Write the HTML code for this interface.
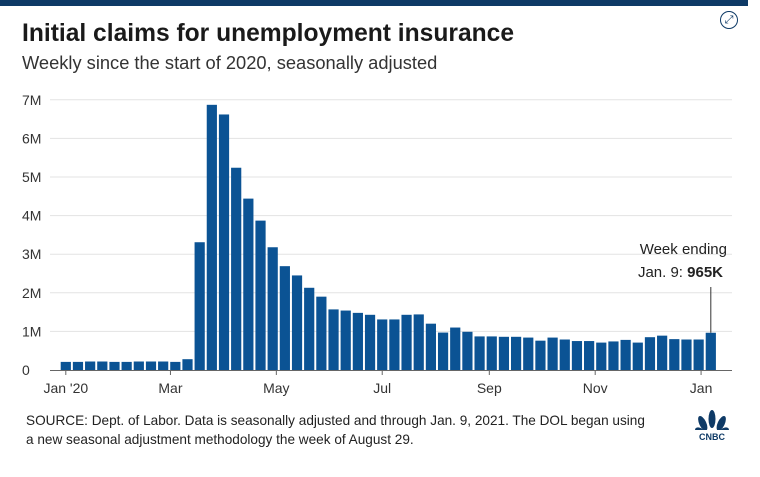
<!DOCTYPE html>
<html><head><meta charset="utf-8"><style>
body{margin:0;width:760px;height:477px;background:#fff;font-family:"Liberation Sans",sans-serif;overflow:hidden;position:relative}
.t{position:absolute;color:#1a1a1a}
</style></head><body>
<div style="position:absolute;left:0;top:0;width:748px;height:6px;background:#0e3a66"></div>
<div class="t" style="left:22px;top:20px;font-size:24.6px;font-weight:bold">Initial claims for unemployment insurance</div>
<div class="t" style="left:22px;top:52px;font-size:18.3px;color:#333">Weekly since the start of 2020, seasonally adjusted</div>
<div style="position:absolute;left:720px;top:11px;width:16px;height:16px;border:1.5px solid #0e3a66;border-radius:50%;font-size:11px;line-height:16px;text-align:center;color:#0e3a66">⤢</div>
<svg id="c" width="760" height="477" style="position:absolute;left:0;top:0"></svg>
<div class="t" style="left:26px;top:411px;font-size:13.6px;line-height:19px;color:#222">SOURCE: Dept. of Labor. Data is seasonally adjusted and through Jan. 9, 2021. The DOL began using<br>a new seasonal adjustment methodology the week of August 29.</div>
<div style="position:absolute;left:692px;top:410px;width:40px;text-align:center">
<svg width="36" height="20" viewBox="0 0 36 20"><g fill="#0e3a66"><ellipse cx="8" cy="13" rx="4" ry="7" transform="rotate(-50 18 19)"/><ellipse cx="12" cy="10" rx="3.5" ry="8" transform="rotate(-25 18 19)"/><ellipse cx="18" cy="9" rx="3.5" ry="9"/><ellipse cx="24" cy="10" rx="3.5" ry="8" transform="rotate(25 18 19)"/><ellipse cx="28" cy="13" rx="4" ry="7" transform="rotate(50 18 19)"/></g></svg>
<div style="font-size:9px;font-weight:bold;color:#0e3a66;margin-top:-3px">CNBC</div></div>
<script>
const values=[0.21,0.21,0.22,0.22,0.21,0.21,0.22,0.22,0.22,0.21,0.28,3.31,6.87,6.62,5.24,4.44,3.87,3.18,2.69,2.45,2.13,1.90,1.57,1.54,1.48,1.43,1.31,1.31,1.43,1.44,1.20,0.97,1.10,0.99,0.87,0.87,0.86,0.86,0.84,0.76,0.84,0.79,0.75,0.75,0.71,0.74,0.78,0.71,0.85,0.89,0.80,0.79,0.79,0.965];
const yTicks=[0,1,2,3,4,5,6,7];
const yTickLabels=["0","1M","2M","3M","4M","5M","6M","7M"];
const xTickIdx=[0,8.6,17.3,26,34.8,43.5,52.2];
const xTickLabels=["Jan '20","Mar","May","Jul","Sep","Nov","Jan"];
const svg=document.getElementById('c');const NS='http://www.w3.org/2000/svg';
const x0=60.7,step=12.17,bw=10.2,yb=370,ppm=38.6;
const X=i=>x0+i*step, Y=v=>yb-v*ppm;
function mk(t,a){const e=document.createElementNS(NS,t);for(const k in a)e.setAttribute(k,a[k]);svg.appendChild(e);return e;}
yTicks.forEach((v,i)=>{
 if(v>0){const g=mk('line',{x1:50,x2:732,y1:Y(v),y2:Y(v),stroke:'#e3e3e3','stroke-width':1});
 
 }
 const t=mk('text',{x:22,y:Y(v)+5,'font-size':14,fill:'#333','font-family':'Liberation Sans, sans-serif'});t.textContent=yTickLabels[i];
 
 
});
values.forEach((v,i)=>{const r=mk('rect',{x:X(i),y:Y(v),width:bw,height:v*ppm,fill:'#0b5394'});
 
 });
const ax=mk('line',{x1:50,x2:732,y1:yb+0.5,y2:yb+0.5,stroke:'#666','stroke-width':1});


xTickIdx.forEach((ix,i)=>{const cx=X(ix)+bw/2;
 mk('line',{x1:cx,x2:cx,y1:yb,y2:yb+5,stroke:'#666'});
 const t=mk('text',{x:cx,y:yb+23,'font-size':14,fill:'#333','text-anchor':'middle','font-family':'Liberation Sans, sans-serif'});t.textContent=xTickLabels[i];
 
 });
const li=values.length-1,lx=X(li)+bw/2;
const ln=mk('line',{x1:lx,x2:lx,y1:287,y2:Y(values[li]),stroke:'#333','stroke-width':1});


const a1=mk('text',{x:727,y:254,'font-size':15,fill:'#222','text-anchor':'end','font-family':'Liberation Sans, sans-serif'});a1.textContent='Week ending';


const a2=mk('text',{x:723,y:277,'font-size':15,fill:'#222','text-anchor':'end','font-family':'Liberation Sans, sans-serif'});


a2.innerHTML='Jan. 9: <tspan font-weight="bold">965K</tspan>';
</script>
</body></html>
